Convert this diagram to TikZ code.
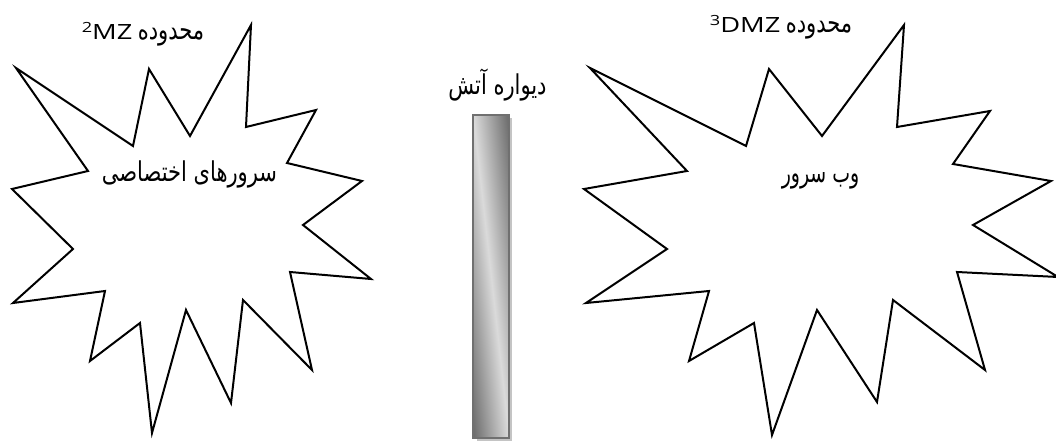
\documentclass[tikz,border=0pt]{standalone}
\usepackage{fontspec}
\setmainfont{Open Sans}
\newfontfamily\farsi[Script=Arabic]{DejaVu Sans}
\TeXXeTstate=1

\definecolor{fwdark}{RGB}{105,105,105}
\definecolor{fwlight}{RGB}{218,218,218}
\definecolor{fwedge}{RGB}{112,112,112}
\definecolor{fwshadow}{RGB}{196,196,196}

% Latin pieces are set wide, Persian pieces tall
\newcommand{\lat}[1]{\scalebox{1.3}[1]{#1}}
\newcommand{\fa}[2][1.0]{\scalebox{#1}[1.3]{\farsi\beginR #2\endR}}
\newcommand{\fnmark}[1]{\raisebox{5.25pt}{\fontsize{10.5pt}{12pt}\selectfont #1}}

\begin{document}
\begin{tikzpicture}[x=0.75pt,y=-0.75pt,
  zone/.style={draw=black,fill=white,line width=1.5pt,line join=miter},
  lbl/.style={inner sep=0pt,outer sep=0pt,anchor=base,font=\fontsize{15.75pt}{19pt}\selectfont}]
\useasboundingbox (0,0) rectangle (1056,441);

% left zone (servers)
\draw[zone] (16,68) -- (133,146) -- (149,69) -- (190,136) -- (251,25) -- (246,127)
  -- (316,110) -- (287,163) -- (362,181) -- (303,225) -- (371,279) -- (290,272)
  -- (312,370) -- (243,300) -- (231,403) -- (186,310) -- (152,433) -- (140,323)
  -- (90,361) -- (105,291) -- (13,303) -- (73,249) -- (12,189) -- (88,171) -- cycle;

% right zone (DMZ)
\draw[zone] (590,68) -- (746,146) -- (769,69) -- (822,136) -- (904,25) -- (897,127)
  -- (990,111) -- (953,164) -- (1051,181) -- (973,225) -- (1058,277) -- (957,272)
  -- (985,370) -- (893,300) -- (877,402) -- (817,310) -- (772,435) -- (754,323)
  -- (689,361) -- (709,291) -- (586,303) -- (667,249) -- (584,189) -- (687,171) -- cycle;

% firewall: shadow, shaded body, edge
\fill[fwshadow] (477,118) rectangle (512,441);
\begin{scope}
  \clip (473,115) rectangle (509,438);
  \begin{scope}[transform canvas={rotate around={6.36:(491,276.5)}}]
    \shade[left color=fwdark,right color=fwdark,middle color=fwlight]
      (455,105) rectangle (527,448);
  \end{scope}
\end{scope}
\draw[fwedge,line width=1.6pt] (473,115) rectangle (509,438);

% labels
\node[lbl] (titleL) at (143,40) {\lat{\fnmark{2}MZ} \fa{محدوده}};
\node[lbl] (titleR) at (781,33) {\lat{\fnmark{3}DMZ} \fa{محدوده}};
\node[lbl] (fwlabel) at (497.5,95) {\fa{دیواره آتش}};
\node[lbl] (srvL) at (189.5,182) {\fa{سرورهای اختصاصی}};
\node[lbl] (srvR) at (820.5,183) {\fa[0.9]{وب سرور}};
\end{tikzpicture}
\end{document}
